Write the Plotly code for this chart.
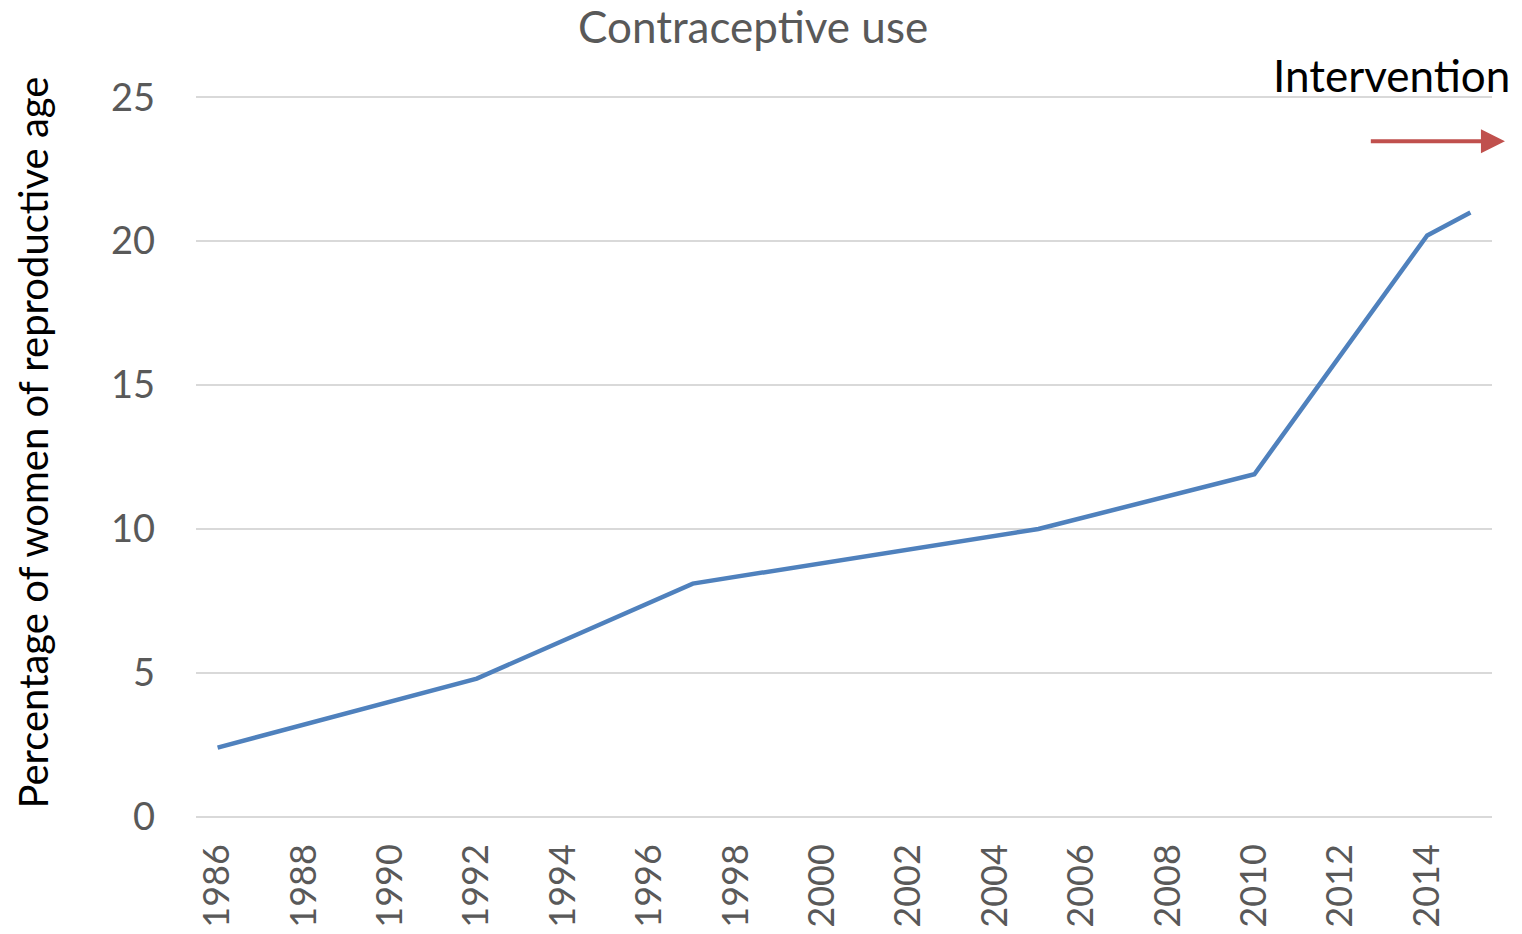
import plotly.graph_objects as go

# Survey years and the share of women of reproductive age using contraception (%)
years = [1986, 1992, 1997, 2005, 2010, 2014, 2015]
usage_pct = [2.4, 4.8, 8.1, 10.0, 11.9, 20.2, 21.0]

tick_years = list(range(1986, 2015, 2))
y_ticks = [0, 5, 10, 15, 20, 25]

chart_title = "Contraceptive use"
y_title = "Percentage of women of reproductive age"
marker_text = "Intervention"

FONT = "Lato, 'Open Sans', sans-serif"
GREY = "#595959"

fig = go.Figure()
fig.add_trace(go.Scatter(
    x=years, y=usage_pct, mode="lines",
    line=dict(color="#4F81BD", width=4.5),
    hoverinfo="x+y", showlegend=False,
))

fig.update_layout(
    width=1522, height=934,
    margin=dict(l=196, r=30, t=95, b=115, autoexpand=False),
    paper_bgcolor="white", plot_bgcolor="white",
    font=dict(family=FONT, color=GREY),
    xaxis=dict(
        range=[1985.5, 2015.5], tickmode="array", tickvals=tick_years,
        ticktext=[str(t) for t in tick_years], tickangle=-90,
        tickfont=dict(size=36, color=GREY), showgrid=False, zeroline=False,
        showline=False, ticks="", ticklabelstandoff=17, automargin=False,
    ),
    yaxis=dict(
        range=[-0.08, 25.08], tickmode="array", tickvals=y_ticks,
        tickfont=dict(size=38, color=GREY), showgrid=True,
        gridcolor="#D9D9D9", gridwidth=1.6, zeroline=False, showline=False,
        ticks="", ticklabelstandoff=40, automargin=False,
    ),
)

fig.add_annotation(
    text=chart_title, xref="paper", yref="paper", x=0.4298, y=1.095,
    xanchor="center", yanchor="middle", showarrow=False,
    font=dict(size=44, color=GREY, family=FONT),
)
fig.add_annotation(
    text=y_title, xref="paper", yref="paper", x=-0.1265, y=0.52,
    xanchor="center", yanchor="middle", textangle=-90, showarrow=False,
    font=dict(size=40, color="black", family=FONT),
)
fig.add_annotation(
    text=marker_text, xref="paper", yref="paper", x=0.8295, y=1.028,
    xanchor="left", yanchor="middle", showarrow=False,
    font=dict(size=44, color="black", family=FONT),
)
# Arrow pointing past the last survey year, marking the intervention period
fig.add_annotation(
    text="", x=2015.8, y=23.47, ax=2012.66, ay=23.47,
    xref="x", yref="y", axref="x", ayref="y",
    showarrow=True, arrowhead=2, arrowsize=1.2, arrowwidth=4,
    arrowcolor="#C0504D",
)

fig.write_html("out.html")
